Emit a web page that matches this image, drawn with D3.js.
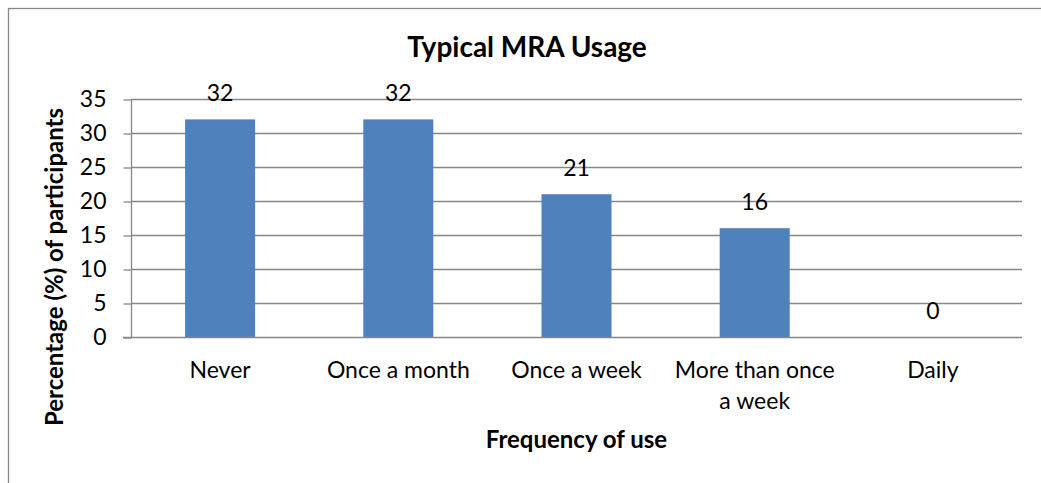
<!DOCTYPE html>
<html>
<head>
<meta charset="utf-8">
<script src="https://cdn.jsdelivr.net/npm/d3@7"></script>
<style>
  html, body { margin: 0; padding: 0; background: #fff; }
  svg { display: block; font-family: Lato, "Open Sans", sans-serif; }
</style>
</head>
<body>
<svg id="chart" width="1041" height="483"></svg>
<script>
const categories = ["Never", "Once a month", "Once a week", "More than once a week", "Daily"];
const categoryLines = [["Never"], ["Once a month"], ["Once a week"], ["More than once", "a week"], ["Daily"]];
const values = [32, 32, 21, 16, 0];
const yTicks = [0, 5, 10, 15, 20, 25, 30, 35];
const titleText = "Typical MRA Usage";
const xTitle = "Frequency of use";
const yTitle = "Percentage (%) of participants";

const svg = d3.select("#chart");
const W = 1041, H = 483;
const margin = { left: 131, right: W - 1022, top: 99, bottom: H - 337 };
const grey = "#878787";
const fontFam = "Lato, sans-serif";

// outer border (chart area, cropped at right and bottom)
svg.append("rect")
  .attr("x", 8.5).attr("y", 8.5)
  .attr("width", 1100).attr("height", 600)
  .attr("fill", "none").attr("stroke", grey).attr("stroke-width", 1.3);

const x = d3.scaleBand()
  .domain(categories)
  .range([margin.left, W - margin.right])
  .paddingInner(0.607).paddingOuter(0.3035);

const y = d3.scaleLinear().domain([0, 35]).range([H - margin.bottom, margin.top]);

// gridlines
svg.append("g").selectAll("line")
  .data(yTicks.filter(d => d > 0))
  .join("line")
  .attr("x1", margin.left).attr("x2", W - margin.right)
  .attr("y1", d => Math.round(y(d)) + 0.5).attr("y2", d => Math.round(y(d)) + 0.5)
  .attr("stroke", grey).attr("stroke-width", 1.3);

// bars
svg.append("g").selectAll("rect")
  .data(values)
  .join("rect")
  .attr("x", (d, i) => x(categories[i]))
  .attr("width", x.bandwidth())
  .attr("y", d => y(d))
  .attr("height", d => y(0) - y(d))
  .attr("fill", "#4F81BD");

// y axis
const yAxis = d3.axisLeft(y).tickValues(yTicks).tickSize(8).tickPadding(17);
const gy = svg.append("g")
  .attr("transform", `translate(${margin.left + 0.5},0.5)`)
  .call(yAxis);
gy.select(".domain").attr("stroke", grey).attr("stroke-width", 1.3).attr("d", `M0,${y(35)}V${y(0)}`);
gy.selectAll(".tick line").attr("stroke", grey).attr("stroke-width", 1.3);
gy.selectAll(".tick text").attr("font-size", 23).attr("fill", "#000").attr("font-family", fontFam);

// x axis (baseline)
const xAxis = d3.axisBottom(x).tickSize(0).tickFormat("");
const gx = svg.append("g")
  .attr("transform", `translate(0,${Math.round(y(0)) + 0.5})`)
  .call(xAxis);
gx.select(".domain").attr("stroke", grey).attr("stroke-width", 1.3).attr("d", `M${margin.left - 8},0H${W - margin.right}`);

// x category labels
const xl = svg.append("g").selectAll("text")
  .data(categoryLines)
  .join("text")
  .attr("text-anchor", "middle")
  .attr("font-size", 23)
  .attr("fill", "#000")
  .attr("transform", (d, i) => `translate(${x(categories[i]) + x.bandwidth() / 2},378)`);
xl.selectAll("tspan")
  .data(d => d)
  .join("tspan")
  .attr("x", 0)
  .attr("dy", (d, j) => j === 0 ? 0 : 31)
  .text(d => d);

// value labels
svg.append("g").selectAll("text")
  .data(values)
  .join("text")
  .attr("text-anchor", "middle")
  .attr("font-size", 23)
  .attr("fill", "#000")
  .attr("x", (d, i) => x(categories[i]) + x.bandwidth() / 2)
  .attr("y", d => y(d) - 18)
  .text(d => d);

// title
svg.append("text")
  .attr("x", 527).attr("y", 57)
  .attr("text-anchor", "middle")
  .attr("font-size", 28).attr("font-weight", "bold")
  .text(titleText);

// axis titles
svg.append("text")
  .attr("x", (margin.left + W - margin.right) / 2).attr("y", 448)
  .attr("text-anchor", "middle")
  .attr("font-size", 24).attr("font-weight", "bold")
  .text(xTitle);

svg.append("text")
  .attr("transform", `translate(63,${267}) rotate(-90)`)
  .attr("text-anchor", "middle")
  .attr("font-size", 24).attr("font-weight", "bold")
  .text(yTitle);
</script>
</body>
</html>
